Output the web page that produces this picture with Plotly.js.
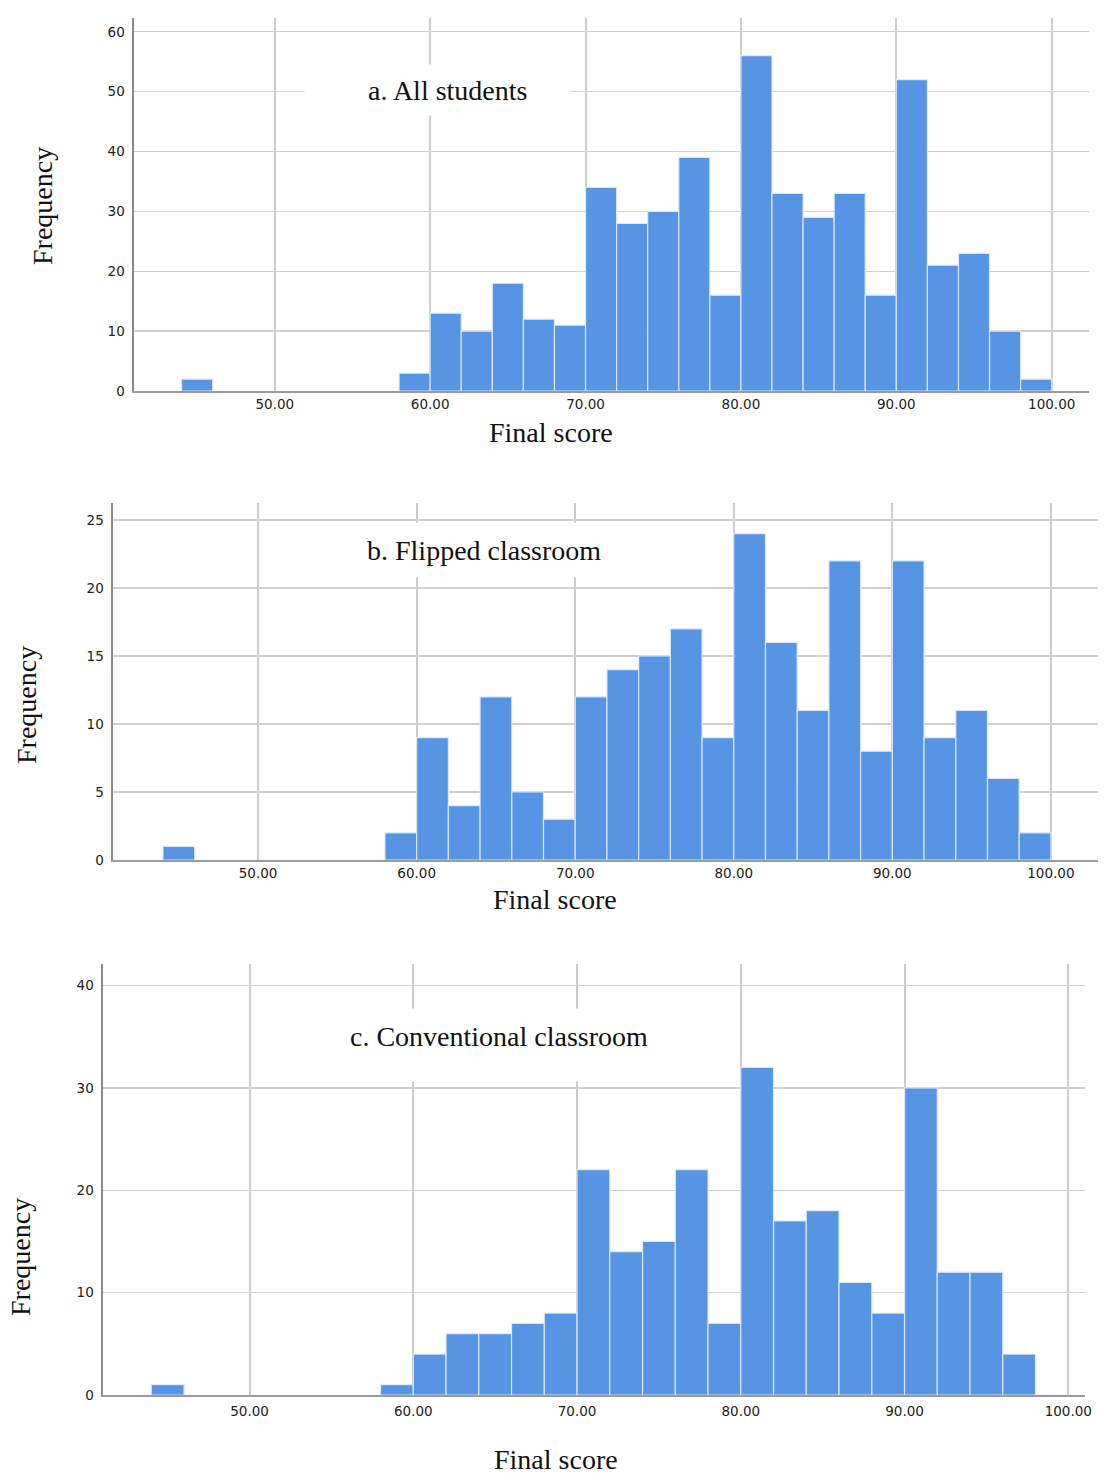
<!DOCTYPE html>
<html>
<head>
<meta charset="utf-8">
<script src="https://cdn.plot.ly/plotly-3.0.1.min.js"></script>
<style>
  html, body { margin: 0; padding: 0; background: #ffffff; }
  #chart { width: 1104px; height: 1483px; }
</style>
</head>
<body>
<div id="chart"></div>
<script>
// Score bins (left edge of each 2-point bin) and frequencies per group
const binStarts = [44, 58, 60, 62, 64, 66, 68, 70, 72, 74, 76, 78, 80, 82, 84, 86, 88, 90, 92, 94, 96, 98];
const binWidth = 2;
const allStudents = [2, 3, 13, 10, 18, 12, 11, 34, 28, 30, 39, 16, 56, 33, 29, 33, 16, 52, 21, 23, 10, 2];
const flippedClass = [1, 2, 9, 4, 12, 5, 3, 12, 14, 15, 17, 9, 24, 16, 11, 22, 8, 22, 9, 11, 6, 2];
const conventionalClass = [1, 1, 4, 6, 6, 7, 8, 22, 14, 15, 22, 7, 32, 17, 18, 11, 8, 30, 12, 12, 4, 0];

const panelTitles = ['a. All students', 'b. Flipped classroom', 'c. Conventional classroom'];
const xTitle = 'Final score';
const yTitle = 'Frequency';

const W = 1104, H = 1483;
const px = v => v / W;          // horizontal pixel -> paper
const py = v => 1 - v / H;      // vertical pixel (from top) -> paper

const barColor = '#5795e4';
const serif = 'Liberation Serif, Times New Roman, serif';
const tickFont = { family: 'DejaVu Sans, Verdana, sans-serif', size: 13.5, color: '#222222' };

const centers = binStarts.map(s => s + binWidth / 2);

function barTrace(counts, xa, ya) {
  return {
    type: 'bar',
    x: centers,
    y: counts,
    width: binWidth,
    xaxis: xa,
    yaxis: ya,
    marker: { color: barColor, line: { color: 'rgba(225,236,250,0.9)', width: 1.2 } },
    hoverinfo: 'x+y',
    showlegend: false
  };
}

const data = [
  barTrace(allStudents, 'x', 'y'),
  barTrace(flippedClass, 'x2', 'y2'),
  barTrace(conventionalClass, 'x3', 'y3')
];

function xAxis(domain, range, anchor, standoff) {
  return {
    domain: domain, range: range, anchor: anchor,
    tickmode: 'linear', tick0: 50, dtick: 10, tickformat: '.2f',
    showgrid: true, gridcolor: '#cdcdcd', gridwidth: 2,
    zeroline: false, showline: true, linecolor: '#9a9a9a', linewidth: 2,
    ticks: '', tickfont: tickFont, ticklabelstandoff: standoff, fixedrange: true
  };
}
function yAxis(domain, range, anchor, dtick) {
  return {
    domain: domain, range: range, anchor: anchor,
    tickmode: 'linear', tick0: 0, dtick: dtick,
    showgrid: true, gridcolor: '#cfcfcf', gridwidth: 1.3,
    zeroline: false, showline: true, linecolor: '#8a8a8a', linewidth: 2.5,
    ticks: '', tickfont: tickFont, ticklabelstandoff: 4, fixedrange: true
  };
}

// Text annotation helper (axis titles and panel titles)
function label(text, cx, cy, angle) {
  return {
    xref: 'paper', yref: 'paper', x: px(cx), y: py(cy),
    xanchor: 'center', yanchor: 'middle', showarrow: false,
    text: text, textangle: angle || 0,
    font: { family: serif, size: 28, color: '#111111' }
  };
}
// White backing box behind each panel title
function backing(x0, y0, x1, y1) {
  return {
    xref: 'paper', yref: 'paper', x: px((x0 + x1) / 2), y: py((y0 + y1) / 2),
    xanchor: 'center', yanchor: 'middle', showarrow: false,
    text: ' ', width: x1 - x0, height: y1 - y0, bgcolor: '#ffffff', borderpad: 0,
    font: { size: 10 }
  };
}

const layout = {
  width: W, height: H,
  margin: { l: 0, r: 0, t: 0, b: 0 },
  paper_bgcolor: '#ffffff', plot_bgcolor: '#ffffff',
  bargap: 0,
  xaxis: xAxis([px(134), px(1089)], [40.94, 102.4], 'y', 0),
  yaxis: yAxis([py(391), py(18)], [0, 62.3], 'x', 10),
  xaxis2: xAxis([px(113), px(1098)], [40.85, 102.97], 'y2', 0),
  yaxis2: yAxis([py(860), py(503)], [0, 26.25], 'x2', 5),
  xaxis3: xAxis([px(103), px(1085)], [41.05, 101.02], 'y3', 3),
  yaxis3: yAxis([py(1395), py(964)], [0, 42.1], 'x3', 10),
  annotations: [
    backing(305, 65, 571, 115),
    backing(345, 523, 720, 577),
    backing(330, 1009, 670, 1081),
    label(panelTitles[0], 447, 91),
    label(panelTitles[1], 484, 551),
    label(panelTitles[2], 499, 1036),
    label(yTitle, 43, 206, -90),
    label(yTitle, 26, 705, -90),
    label(yTitle, 20, 1257, -90),
    label(xTitle, 551, 432),
    label(xTitle, 555, 899),
    label(xTitle, 556, 1459)
  ]
};

Plotly.newPlot('chart', data, layout, { displayModeBar: false, staticPlot: true });
</script>
</body>
</html>
